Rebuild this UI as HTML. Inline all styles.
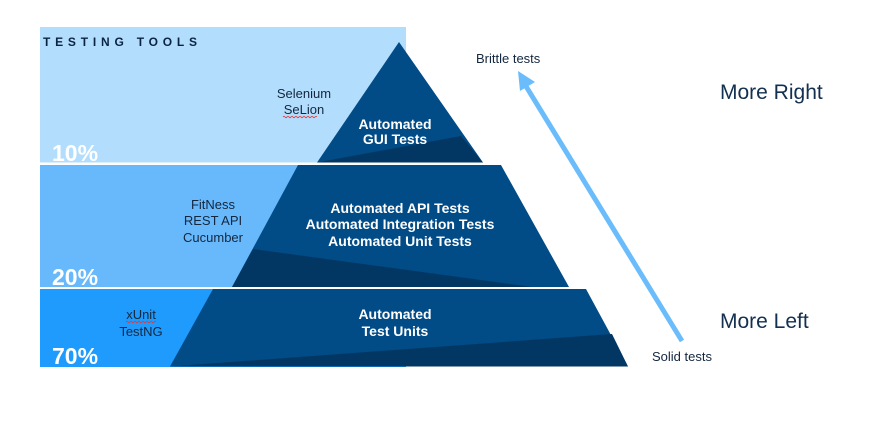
<!DOCTYPE html>
<html><head><meta charset="utf-8"><style>
html,body{margin:0;padding:0;background:#fff;}
svg{display:block;}
text{font-family:"Liberation Sans",sans-serif;}
</style></head><body>
<svg width="874" height="429" viewBox="0 0 874 429" xmlns="http://www.w3.org/2000/svg">
<rect x="0" y="0" width="874" height="429" fill="#fff"/>
<!-- bands -->
<rect x="40" y="27" width="366" height="135.5" fill="#B3DDFD"/>
<rect x="40" y="165" width="366" height="122" fill="#68B9FC"/>
<rect x="40" y="289" width="366" height="78" fill="#1E9BFC"/>
<!-- tier 1 -->
<polygon points="399,42 483,162.5 317,162.5" fill="#014B87"/>
<polygon points="317,162.5 461,136 483,162.5" fill="#023763"/>
<!-- tier 2 -->
<polygon points="298,165 501,165 569,287 232,287" fill="#014B87"/>
<polygon points="253,249 232,287 532,287" fill="#023763"/>
<!-- tier 3 -->
<polygon points="213,289 586,289 628,366.5 170,366.5" fill="#014B87"/>
<polygon points="170,366.5 612,334 628,366.5" fill="#023763"/>
<!-- arrow -->
<line x1="682" y1="341" x2="524" y2="83" stroke="#6BBCFB" stroke-width="5"/>
<polygon points="518,71 535,82 520,91" fill="#6BBCFB"/>
<!-- title -->
<text x="43" y="46" font-size="12" font-weight="bold" fill="#0B2442" letter-spacing="4.8">TESTING TOOLS</text>
<!-- percentages -->
<text x="52" y="161" font-size="23" font-weight="bold" fill="#fff">10%</text>
<text x="52" y="285" font-size="23" font-weight="bold" fill="#fff">20%</text>
<text x="52" y="364" font-size="23" font-weight="bold" fill="#fff">70%</text>
<!-- tools -->
<g font-size="13" fill="#13273F" text-anchor="middle">
<text x="304" y="98">Selenium</text>
<text x="304" y="114">SeLion</text>
<text x="213" y="209">FitNess</text>
<text x="213" y="225">REST API</text>
<text x="213" y="242">Cucumber</text>
<text x="141" y="319">xUnit</text>
<text x="141" y="336">TestNG</text>
</g>
<!-- spell underlines -->
<path d="M283 117 q1 -1.5 2 0 t2 0 t2 0 t2 0 t2 0 t2 0 t2 0 t2 0 t2 0 t2 0 t2 0 t2 0 t2 0 t2 0 t2 0 t2 0 t2 0" fill="none" stroke="#e33" stroke-width="0.8"/>
<path d="M126 322 q1 -1.5 2 0 t2 0 t2 0 t2 0 t2 0 t2 0 t2 0 t2 0 t2 0 t2 0 t2 0 t2 0 t2 0 t2 0 t2 0" fill="none" stroke="#e33" stroke-width="0.8"/>
<!-- tier labels -->
<g font-size="14" font-weight="bold" fill="#fff" text-anchor="middle">
<text x="395" y="129">Automated</text>
<text x="395" y="144">GUI Tests</text>
<text x="400" y="213">Automated API Tests</text>
<text x="400" y="229">Automated Integration Tests</text>
<text x="400" y="246">Automated Unit Tests</text>
<text x="395" y="319">Automated</text>
<text x="395" y="336">Test Units</text>
</g>
<!-- right labels -->
<text x="476" y="63" font-size="13" fill="#13273F">Brittle tests</text>
<text x="652" y="361" font-size="13" fill="#13273F">Solid tests</text>
<text x="720" y="99" font-size="21" fill="#13304F">More Right</text>
<text x="720" y="328" font-size="21" fill="#13304F">More Left</text>
</svg>
</body></html>
